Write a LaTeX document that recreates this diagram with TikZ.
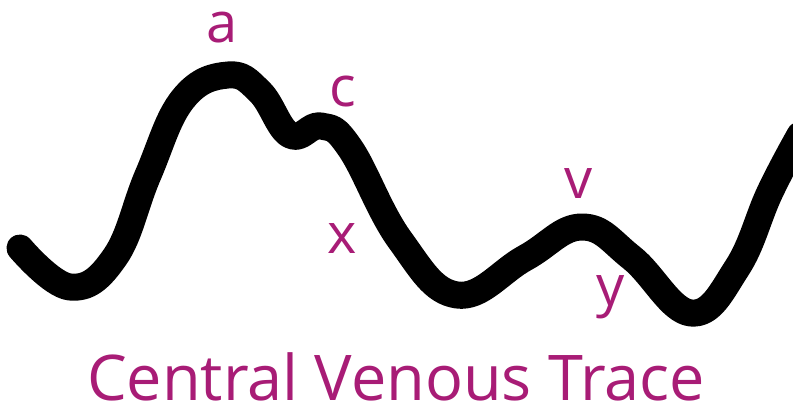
\documentclass[tikz,border=0pt]{standalone}
\usepackage{fontspec}
\setmainfont{Open Sans}
\definecolor{lblmag}{RGB}{168,28,118}
\begin{document}
\begin{tikzpicture}[x=1pt,y=-1pt,
  trace/.style={line width=27pt,line cap=round,line join=round,black},
  lbl/.style={text=lblmag,font=\fontsize{56}{60}\selectfont,anchor=base,inner sep=0pt},
  ttl/.style={text=lblmag,font=\fontsize{63}{66}\selectfont,anchor=base,inner sep=0pt}]
\useasboundingbox[fill=white] (0,0) rectangle (793,417);
\draw[trace] plot[smooth,tension=0.7] coordinates {
 (20,248) (70,287) (115,257) (148,175) (183,99) (228,75) (260,92)
 (290,135) (321,126) (350,148) (400,240) (457,295) (525,258)
 (582,227) (632,258) (691,313) (737,268) (770,192) (800,135)};
\node[lbl] (a) at (222,43) {a};
\node[lbl] (c) at (343,107) {c};
\node[lbl] (x) at (342,253) {x};
\node[lbl] (v) at (579,198) {v};
\node[lbl] (y) at (611,305) {y};
\node[ttl] (t) at (396,400) {Central Venous Trace};
\end{tikzpicture}
\end{document}
